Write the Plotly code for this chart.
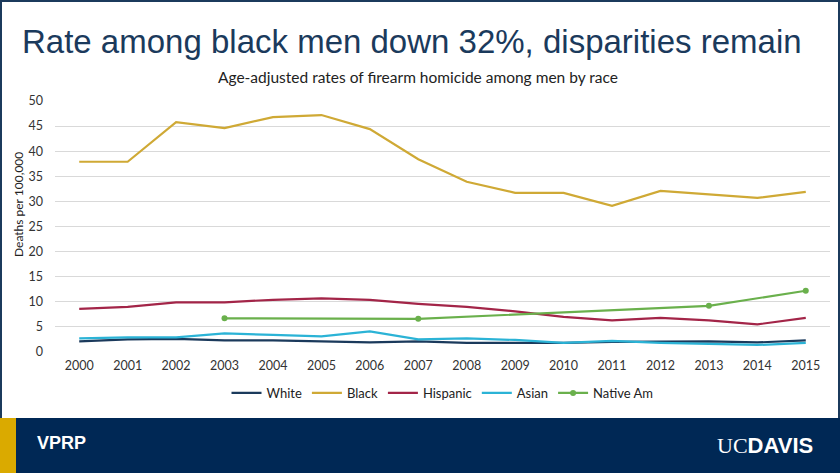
import plotly.graph_objects as go

years = list(range(2000, 2016))
white = [2.1, 2.5, 2.6, 2.3, 2.3, 2.1, 1.9, 2.1, 1.8, 1.8, 1.8, 2.0, 2.0, 2.1, 1.9, 2.3]
black = [37.9, 37.9, 45.8, 44.6, 46.8, 47.2, 44.4, 38.4, 33.9, 31.7, 31.7, 29.1, 32.1, 31.4, 30.7, 31.9]
hispanic = [8.6, 9.0, 9.9, 9.9, 10.4, 10.7, 10.4, 9.6, 9.0, 8.1, 7.0, 6.3, 6.8, 6.3, 5.5, 6.8]
asian = [2.7, 2.9, 2.9, 3.7, 3.4, 3.1, 4.1, 2.5, 2.7, 2.4, 1.8, 2.2, 1.8, 1.6, 1.4, 1.8]
native = [None, None, None, 6.7, None, None, None, 6.6, None, None, None, None, None, 9.2, None, 12.2]

colors = {
    "White": "#1B3A5C",
    "Black": "#CFA935",
    "Hispanic": "#A32548",
    "Asian": "#2BB3D6",
    "Native Am": "#6AB04C",
}

fig = go.Figure()
for name, vals in [("White", white), ("Black", black), ("Hispanic", hispanic), ("Asian", asian)]:
    fig.add_trace(go.Scatter(x=years, y=vals, name=name, mode="lines",
                             line=dict(color=colors[name], width=2.2)))
fig.add_trace(go.Scatter(x=years, y=native, name="Native Am", mode="lines+markers",
                         connectgaps=True,
                         line=dict(color=colors["Native Am"], width=2.2),
                         marker=dict(size=6, color=colors["Native Am"])))

L, R, T, B = 55, 10, 101, 121
pw = 840 - L - R
ph = 473 - T - B

def px(x):
    return (x - L) / pw

def py(y):
    return (473 - B - y) / ph

shapes = [
    dict(type="rect", xref="paper", yref="paper", x0=px(0), x1=px(840), y0=py(473), y1=py(418),
         fillcolor="#002855", line=dict(width=0), layer="below"),
    dict(type="rect", xref="paper", yref="paper", x0=px(0), x1=px(16), y0=py(473), y1=py(418),
         fillcolor="#DAAA00", line=dict(width=0), layer="below"),
    dict(type="rect", xref="paper", yref="paper", x0=px(0), x1=px(2), y0=py(418), y1=py(0),
         fillcolor="#1B3A5C", line=dict(width=0), layer="below"),
    dict(type="rect", xref="paper", yref="paper", x0=px(838), x1=px(840), y0=py(418), y1=py(0),
         fillcolor="#1B3A5C", line=dict(width=0), layer="below"),
    dict(type="rect", xref="paper", yref="paper", x0=px(0), x1=px(840), y0=py(2), y1=py(0),
         fillcolor="#1B3A5C", line=dict(width=0), layer="below"),
]

annotations = [
    dict(text="Rate among black men down 32%, disparities remain", xref="paper", yref="paper",
         x=px(412), y=py(41), xanchor="center", yanchor="middle", showarrow=False,
         font=dict(family="Liberation Sans, Arial", size=33, color="#1B3A5C")),
    dict(text="Age-adjusted rates of firearm homicide among men by race", xref="paper", yref="paper",
         x=px(418), y=py(77), xanchor="center", yanchor="middle", showarrow=False,
         font=dict(family="Lato, Open Sans", size=15.5, color="#222222")),
    dict(text="Deaths per 100,000", xref="paper", yref="paper", textangle=-90,
         x=px(18), y=py(205), xanchor="center", yanchor="middle", showarrow=False,
         font=dict(family="Lato, Open Sans", size=12, color="#222222")),
    dict(text="<b>VPRP</b>", xref="paper", yref="paper",
         x=px(35), y=py(443), xanchor="left", yanchor="middle", showarrow=False,
         font=dict(family="Liberation Sans, Arial", size=18, color="#FFFFFF")),
    dict(text="UC<span style=\"font-family:'Liberation Sans', Arial; font-weight:bold\">DAVIS</span>",
         xref="paper", yref="paper",
         x=px(815), y=py(445), xanchor="right", yanchor="middle", showarrow=False,
         font=dict(family="Liberation Serif, Times New Roman", size=22, color="#FFFFFF")),
]

fig.update_layout(
    width=840, height=473,
    margin=dict(l=L, r=R, t=T, b=B, pad=0),
    paper_bgcolor="white", plot_bgcolor="white",
    showlegend=True,
    legend=dict(orientation="h", x=0.5, xanchor="center", y=py(393), yanchor="middle",
                font=dict(family="Lato, Open Sans", size=13, color="#222222"),
                itemwidth=30, tracegroupgap=0),
    xaxis=dict(range=[1999.5, 2015.5], tickmode="array", tickvals=years,
               ticktext=[str(y) for y in years], showgrid=False, zeroline=False,
               showline=False, ticks="", ticklabelstandoff=4,
               tickfont=dict(family="Lato, Open Sans", size=12.5, color="#333333")),
    yaxis=dict(range=[0, 50], tickvals=list(range(0, 51, 5)), showgrid=True,
               gridcolor="#D9D9D9", gridwidth=1, zeroline=False, showline=False,
               ticks="", ticklabelstandoff=11,
               tickfont=dict(family="Lato, Open Sans", size=12.5, color="#333333")),
    shapes=shapes,
    annotations=annotations,
)

fig.write_html("out.html", config={"displayModeBar": False},
               post_script="document.body.style.margin='0';document.body.style.overflow='hidden';")
